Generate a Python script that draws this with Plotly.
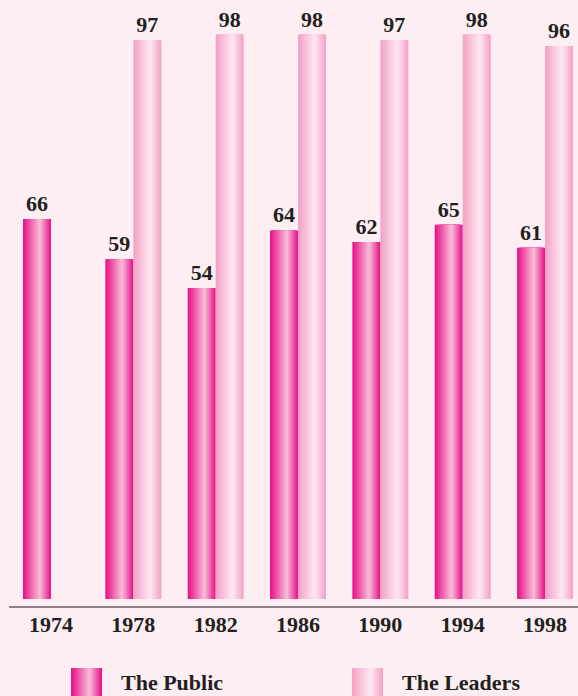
import plotly.graph_objects as go

years = ["1974", "1978", "1982", "1986", "1990", "1994", "1998"]
public = [66, 59, 54, 64, 62, 65, 61]
leaders = [None, 97, 98, 98, 97, 98, 96]
series_names = ["The Public", "The Leaders"]

BG = "#FCEEF3"
TXT = "#231F20"
FONT = "Liberation Serif"

# gradient: edge colour -> light colour, light point at fraction P
GRAD = {
    "The Public": ((232, 22, 139), (247, 182, 212)),
    "The Leaders": ((244, 163, 200), (253, 229, 239)),
}
P = 0.6
N = 10
BW = 0.34


def mix(c1, c2, t):
    return "rgb(%d,%d,%d)" % tuple(round(a + (b - a) * t) for a, b in zip(c1, c2))


def layers(base_offset, width, edge, light):
    out = []
    for k in range(N):
        f = 1 - k / N
        lo = P - P * f
        hi = P + (1 - P) * f
        out.append((base_offset + lo * width, (hi - lo) * width, mix(edge, light, k / (N - 1))))
    return out


fig = go.Figure()
for name, vals, off in [("The Public", public, -BW), ("The Leaders", leaders, 0.0)]:
    edge, light = GRAD[name]
    for k, (o, w, col) in enumerate(layers(off, BW, edge, light)):
        fig.add_trace(go.Bar(
            x=list(range(len(years))), y=vals, name=name,
            offset=o, width=w,
            marker=dict(color=col, line=dict(width=0)),
            text=[f"<b>{v}</b>" if v is not None else "" for v in vals] if k == 0 else None,
            textposition="outside" if k == 0 else "none",
            textfont=dict(family=FONT, size=22, color=TXT),
            cliponaxis=False,
            showlegend=False, hoverinfo="skip" if k else None,
        ))

# manual legend (large swatches like the reference)
L, R, T, B = 9, 0, 0, 90
W, H = 578 - L - R, 696 - T - B


def px2paper(x, y):
    return (x - L) / W, (H + T - y) / H


shapes, annotations = [], []
for name, sx, tx in [("The Public", 71, 119), ("The Leaders", 352, 400)]:
    edge, light = GRAD[name]
    for o, w, col in layers(0, 31, edge, light):
        x0, y0 = px2paper(sx + o, 668)
        x1, y1 = px2paper(sx + o + w, 700)
        shapes.append(dict(type="rect", xref="paper", yref="paper", x0=x0, x1=x1, y0=y1, y1=y0,
                           fillcolor=col, line=dict(width=0), layer="above"))
    ax, ay = px2paper(tx, 682)
    annotations.append(dict(xref="paper", yref="paper", x=ax, y=ay, text=f"<b>{name}</b>", showarrow=False,
                            xanchor="left", yanchor="middle",
                            font=dict(family=FONT, size=22, color=TXT)))

fig.update_layout(
    width=578, height=696,
    margin=dict(l=L, r=R, t=T, b=B),
    paper_bgcolor=BG, plot_bgcolor=BG,
    barmode="overlay",
    showlegend=False,
    shapes=shapes, annotations=annotations,
    xaxis=dict(range=[-0.51, 6.40], tickmode="array", tickvals=list(range(len(years))),
               ticktext=[f"<b>{y}</b>" for y in years],
               showline=True, linecolor="#8E7F86", linewidth=2, showgrid=False, zeroline=False,
               ticks="", ticklabelstandoff=-2,
               tickfont=dict(family=FONT, size=22, color=TXT), fixedrange=True),
    yaxis=dict(range=[-1.2, 104], visible=False, showgrid=False, zeroline=False, fixedrange=True),
)

fig.write_html("out.html", config={"displayModeBar": False},
               post_script="document.body.style.margin='0';document.body.style.overflow='hidden';")
